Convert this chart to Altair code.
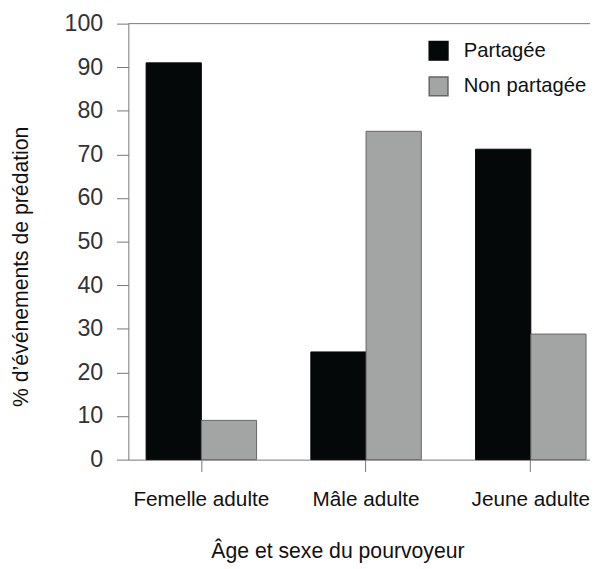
import altair as alt
import pandas as pd

categories = ["Femelle adulte", "Mâle adulte", "Jeune adulte"]
series = ["Partagée", "Non partagée"]
partagee = [91, 24.7, 71.2]
non_partagee = [9, 75.3, 28.8]
y_ticks = [0, 10, 20, 30, 40, 50, 60, 70, 80, 90, 100]

rows = []
for c, p, n in zip(categories, partagee, non_partagee):
    rows.append({"cat": c, "series": series[0], "value": p})
    rows.append({"cat": c, "series": series[1], "value": n})
df = pd.DataFrame(rows)

FONT = "Liberation Sans"
W, H = 468, 442

legend_kw = dict(title=None, orient="none", legendX=304, legendY=17,
                 symbolType="square", symbolSize=361, labelFont=FONT,
                 labelFontSize=20.5, labelColor="#111", rowPadding=11,
                 labelOffset=15, padding=0)

bars = alt.Chart(df).mark_bar(strokeWidth=1).encode(
    x=alt.X("cat:N", sort=categories,
            scale=alt.Scale(paddingInner=0.3293, paddingOuter=0.0659, align=0.818),
            axis=alt.Axis(title="Âge et sexe du pourvoyeur", labelAngle=0,
                          labelFont=FONT, labelFontSize=21, labelColor="#111",
                          labelPadding=17, tickSize=12, tickColor="#777",
                          domainColor="#777", titleFont=FONT, titleFontSize=21.5,
                          titleFontWeight="normal", titleColor="#111",
                          titleX=212, titleY=99, titleBaseline="alphabetic",
                          titleAnchor="middle", titleAlign="center")),
    xOffset=alt.XOffset("series:N", sort=series,
                        scale=alt.Scale(domain=series, paddingInner=0, paddingOuter=0)),
    y=alt.Y("value:Q", scale=alt.Scale(domain=[0, 100], nice=False),
            axis=alt.Axis(title="% d’événements de prédation", values=y_ticks,
                          grid=False, labelFont=FONT, labelFontSize=23.5,
                          labelColor="#333", labelPadding=14, tickSize=12,
                          tickColor="#777", domainColor="#777",
                          titleFont=FONT, titleFontSize=21.5,
                          titleFontWeight="normal", titleColor="#111",
                          titleX=-97, titleY=246, titleBaseline="bottom",
                          titleAlign="center")),
    color=alt.Color("series:N", sort=series,
                    scale=alt.Scale(domain=series, range=["#050808", "#a3a5a4"]),
                    legend=alt.Legend(**legend_kw)),
    stroke=alt.Stroke("series:N", sort=series,
                      scale=alt.Scale(domain=series, range=["#050808", "#666666"]),
                      legend=alt.Legend(**legend_kw)),
)

top_line = alt.Chart(pd.DataFrame({"v": [100]})).mark_rule(color="#777", strokeWidth=1).encode(
    y=alt.Y("v:Q")
)

chart = alt.layer(bars, top_line).properties(
    width=W, height=H,
    autosize=alt.AutoSizeParams(type="none"),
    padding={"left": 122, "top": 12, "right": 0, "bottom": 106},
).configure_view(stroke=None)

chart.save("out.html", embed_options={"renderer": "svg", "actions": False})
